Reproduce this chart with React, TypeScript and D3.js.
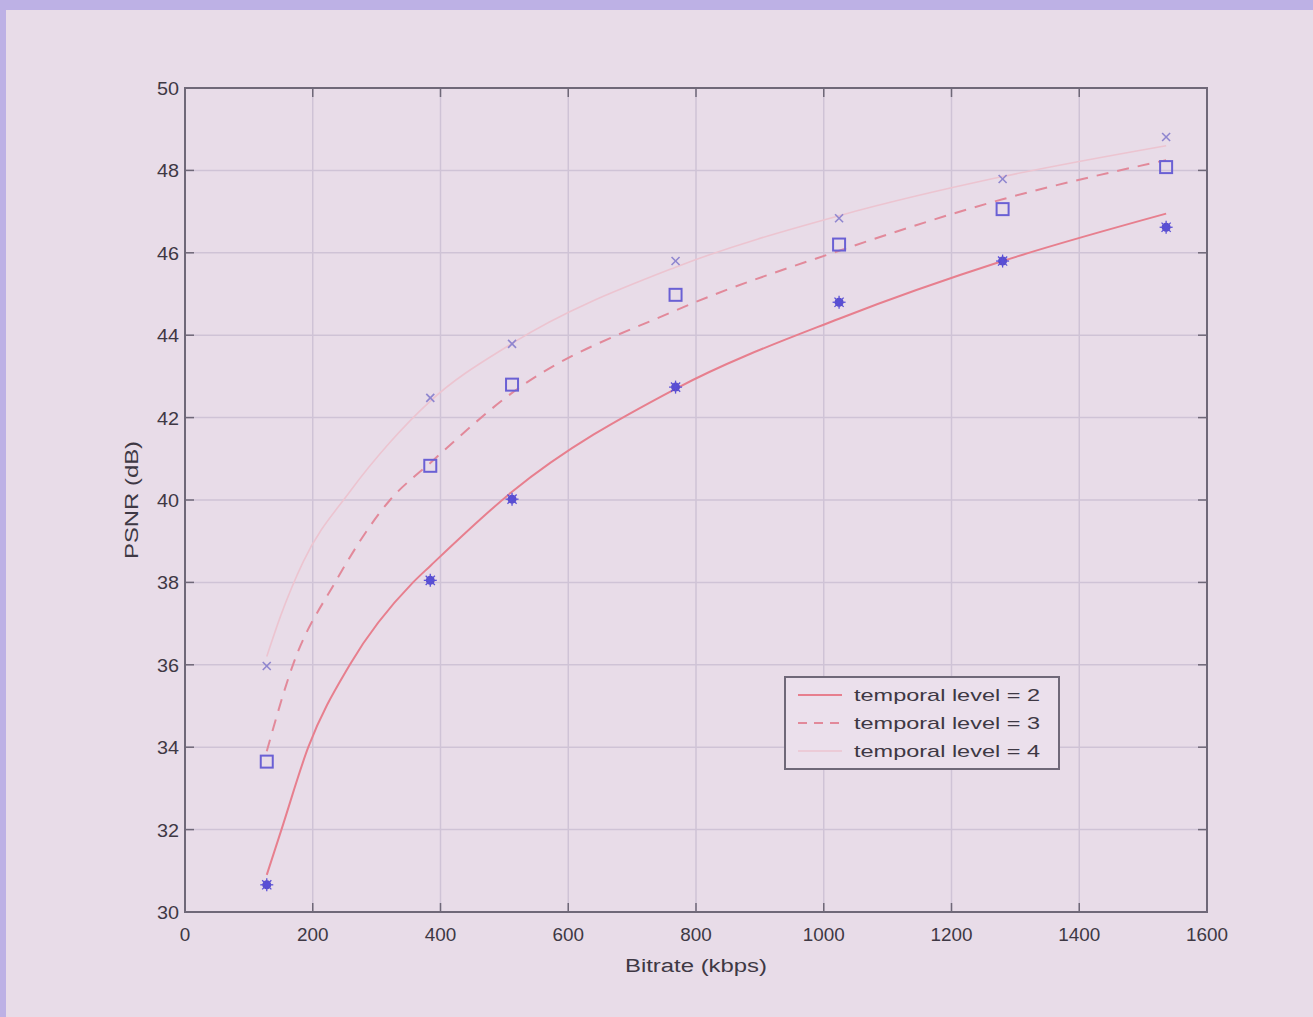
import React, { useRef, useEffect } from "react";
import * as d3 from "d3";

// measured bitrates (kbps)
const bitrates = [128, 384, 512, 768, 1024, 1280, 1536];

// measured PSNR (dB) per temporal level
const level2Points = [30.66, 38.05, 40.02, 42.74, 44.8, 45.8, 46.62];
const level3Points = [33.65, 40.83, 42.8, 44.98, 46.2, 47.06, 48.08];
const level4Points = [35.97, 42.48, 43.79, 45.8, 46.84, 47.79, 48.81];

// fitted curves
const level2CurveX = [128, 151, 193, 258, 357, 384, 512, 768, 1024, 1280, 1536];
const level2CurveY = [30.9, 32.0, 34.0, 36.0, 38.0, 38.4, 40.2, 42.7, 44.4, 45.8, 46.95];
const level3CurveX = [128, 169, 235, 321, 384, 512, 768, 1024, 1280, 1536];
const level3CurveY = [33.9, 36.0, 38.0, 40.0, 40.9, 42.6, 44.6, 46.05, 47.3, 48.25];
const level4CurveX = [128, 150, 185, 258, 321, 384, 512, 768, 1024, 1280, 1536];
const level4CurveY = [36.2, 37.2, 38.5, 40.2, 41.4, 42.4, 43.8, 45.65, 46.9, 47.85, 48.6];

const xTicks = [0, 200, 400, 600, 800, 1000, 1200, 1400, 1600];
const yTicks = [30, 32, 34, 36, 38, 40, 42, 44, 46, 48, 50];

const legendLabels = ["temporal level = 2", "temporal level = 3", "temporal level = 4"];

export default function App() {
  const svgRef = useRef<SVGSVGElement>(null);

  useEffect(() => {
    const width = 1313;
    const height = 1017;
    const svg = d3.select(svgRef.current);
    svg.selectAll("*").remove();
    svg.attr("width", width).attr("height", height);

    const font = "'Liberation Sans', Arial, sans-serif";
    const textColor = "#3e3844";

    // slide background
    svg.append("rect").attr("width", width).attr("height", height).attr("fill", "#bdb1e5");
    svg.append("rect").attr("x", 6).attr("y", 10).attr("width", width - 6).attr("height", height - 10).attr("fill", "#e8dce8");

    const x = d3.scaleLinear().domain([0, 1600]).range([185, 1207]);
    const y = d3.scaleLinear().domain([30, 50]).range([912, 88]);

    // grid
    const grid = svg.append("g").attr("stroke", "#cfc3d6").attr("stroke-width", 1.5);
    xTicks.slice(1, -1).forEach((t) => {
      grid.append("line").attr("x1", x(t)).attr("x2", x(t)).attr("y1", y(30)).attr("y2", y(50));
    });
    yTicks.slice(1, -1).forEach((t) => {
      grid.append("line").attr("x1", x(0)).attr("x2", x(1600)).attr("y1", y(t)).attr("y2", y(t));
    });

    // frame with inward ticks
    const axisColor = "#6f6878";
    svg.append("rect")
      .attr("x", x(0)).attr("y", y(50))
      .attr("width", x(1600) - x(0)).attr("height", y(30) - y(50))
      .attr("fill", "none").attr("stroke", axisColor).attr("stroke-width", 2);

    const ticks = svg.append("g").attr("stroke", axisColor).attr("stroke-width", 1.5);
    xTicks.forEach((t) => {
      ticks.append("line").attr("x1", x(t)).attr("x2", x(t)).attr("y1", y(30)).attr("y2", y(30) - 9);
      ticks.append("line").attr("x1", x(t)).attr("x2", x(t)).attr("y1", y(50)).attr("y2", y(50) + 9);
    });
    yTicks.forEach((t) => {
      ticks.append("line").attr("x1", x(0)).attr("x2", x(0) + 9).attr("y1", y(t)).attr("y2", y(t));
      ticks.append("line").attr("x1", x(1600)).attr("x2", x(1600) - 9).attr("y1", y(t)).attr("y2", y(t));
    });

    // tick labels
    svg.append("g").selectAll("text").data(xTicks).join("text")
      .attr("x", (d) => x(d)).attr("y", y(30) + 29)
      .attr("text-anchor", "middle")
      .attr("font-family", font).attr("font-size", 19).attr("fill", textColor)
      .attr("textLength", (d) => String(d).length * 10.5).attr("lengthAdjust", "spacingAndGlyphs")
      .text((d) => d);
    svg.append("g").selectAll("text").data(yTicks).join("text")
      .attr("x", x(0) - 6).attr("y", (d) => y(d) + 7)
      .attr("text-anchor", "end")
      .attr("font-family", font).attr("font-size", 19).attr("fill", textColor)
      .attr("textLength", 22).attr("lengthAdjust", "spacingAndGlyphs")
      .text((d) => d);

    // axis titles
    svg.append("text")
      .attr("x", 696).attr("y", 972).attr("text-anchor", "middle")
      .attr("font-family", font).attr("font-size", 18).attr("fill", textColor)
      .attr("textLength", 142).attr("lengthAdjust", "spacingAndGlyphs")
      .text("Bitrate (kbps)");
    svg.append("text")
      .attr("transform", "translate(138,500) rotate(-90)").attr("text-anchor", "middle")
      .attr("font-family", font).attr("font-size", 18).attr("fill", textColor)
      .attr("textLength", 118).attr("lengthAdjust", "spacingAndGlyphs")
      .text("PSNR (dB)");

    // fitted curves
    const line = d3.line<[number, number]>()
      .x((d) => x(d[0])).y((d) => y(d[1]))
      .curve(d3.curveMonotoneX);
    const curves = [
      { xs: level4CurveX, ys: level4CurveY, stroke: "#ecc4d0", dash: null, w: 1.6 },
      { xs: level3CurveX, ys: level3CurveY, stroke: "#e2899a", dash: "12,9", w: 2 },
      { xs: level2CurveX, ys: level2CurveY, stroke: "#e77f8e", dash: null, w: 2 },
    ];
    curves.forEach((c) => {
      svg.append("path")
        .datum(c.xs.map((v, i) => [v, c.ys[i]] as [number, number]))
        .attr("d", line)
        .attr("fill", "none").attr("stroke", c.stroke).attr("stroke-width", c.w)
        .attr("stroke-dasharray", c.dash);
    });

    // markers
    const stars = svg.append("g");
    bitrates.forEach((b, i) => {
      const cx = x(b), cy = y(level2Points[i]);
      stars.append("circle").attr("cx", cx).attr("cy", cy).attr("r", 4.5).attr("fill", "#4a3fc4").attr("opacity", 0.9);
      const g = stars.append("g").attr("stroke", "#5a50d8").attr("stroke-width", 1.3);
      [0, 45, 90, 135].forEach((a) => {
        const r = 6.5, dx = r * Math.cos((a * Math.PI) / 180), dy = r * Math.sin((a * Math.PI) / 180);
        g.append("line").attr("x1", cx - dx).attr("x2", cx + dx).attr("y1", cy - dy).attr("y2", cy + dy);
      });
    });
    svg.append("g").selectAll("rect").data(bitrates).join("rect")
      .attr("x", (d) => x(d) - 6).attr("y", (d, i) => y(level3Points[i]) - 6)
      .attr("width", 12).attr("height", 12)
      .attr("fill", "none").attr("stroke", "#6a60d4").attr("stroke-width", 2);
    const crosses = svg.append("g").attr("stroke", "#8f86cf").attr("stroke-width", 1.6);
    bitrates.forEach((b, i) => {
      const cx = x(b), cy = y(level4Points[i]), r = 4;
      crosses.append("line").attr("x1", cx - r).attr("x2", cx + r).attr("y1", cy - r).attr("y2", cy + r);
      crosses.append("line").attr("x1", cx - r).attr("x2", cx + r).attr("y1", cy + r).attr("y2", cy - r);
    });

    // legend
    const lg = svg.append("g").attr("transform", "translate(785,677)");
    lg.append("rect").attr("width", 274).attr("height", 92)
      .attr("fill", "#ebe0ec").attr("stroke", "#6f6878").attr("stroke-width", 2);
    legendLabels.forEach((label, i) => {
      const c = curves[2 - i];
      const ly = 18 + i * 28;
      lg.append("line").attr("x1", 13).attr("x2", 57).attr("y1", ly).attr("y2", ly)
        .attr("stroke", c.stroke).attr("stroke-width", c.w).attr("stroke-dasharray", c.dash ? "9,7" : null);
      lg.append("text").attr("x", 69).attr("y", ly + 6)
        .attr("font-family", font).attr("font-size", 17).attr("fill", textColor)
        .attr("textLength", 186).attr("lengthAdjust", "spacingAndGlyphs")
        .text(label);
    });
  }, []);

  return (
    <div style={{ position: "absolute", left: 0, top: 0 }}>
      <svg ref={svgRef} style={{ display: "block" }} />
    </div>
  );
}
